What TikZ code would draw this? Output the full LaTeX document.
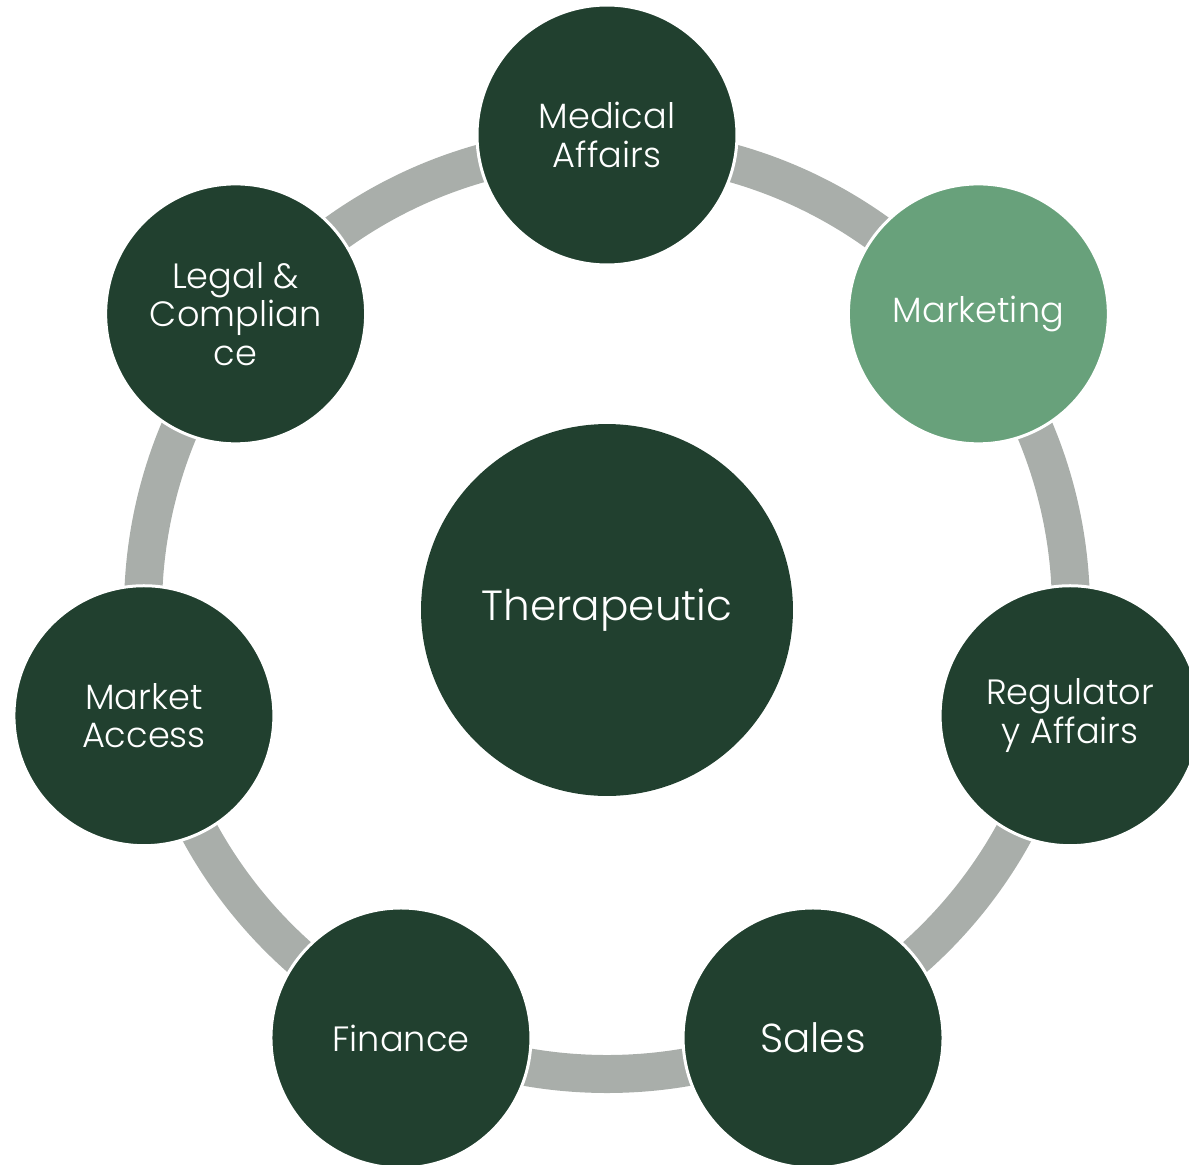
\documentclass[tikz,border=0pt]{standalone}
\usepackage{fontspec}
\setmainfont{Poppins Light}
\definecolor{Pine}{HTML}{21402F}
\definecolor{Sage}{HTML}{68A17B}
\definecolor{Stone}{HTML}{A9AEAA}

\begin{document}
\begin{tikzpicture}[
  x=0.02cm, y=0.02cm,
  unit/.style={circle, fill=Pine, draw=white, line width=0.06cm,
               minimum size=5.2cm, inner sep=0pt, text=white, align=center,
               font=\fontsize{20}{22}\selectfont},
  hubnode/.style={circle, fill=Pine, minimum size=7.44cm, inner sep=0pt,
                  text=white, font=\fontsize{24}{28}\selectfont},
  ring/.style={draw=Stone, line width=0.76cm}
]
  \useasboundingbox (-607,-554) rectangle (582,610);
  \clip (-607,-554) rectangle (582,610);

  % grey ring behind the satellites
  \draw[ring] (0,0) circle (464);

  \node[hubnode] (hub) at (0,0) {Therapeutic};

  % seven satellites, 360/7 degrees apart
  \node[unit]            (med)    at (90:475)     {Medical\\Affairs};
  \node[unit, fill=Sage] (mkt)    at (38.57:475)  {Marketing};
  \node[unit]            (reg)    at (-12.86:475) {Regulator\\y Affairs};
  \node[unit, font=\fontsize{23}{28}\selectfont]
                         (sales)  at (-64.29:475) {Sales};
  \node[unit]            (fin)    at (-115.71:475) {Finance};
  \node[unit]            (access) at (-167.14:475) {Market\\Access};
  \node[unit]            (legal)  at (141.43:475) {Legal \&\\Complian\\ce};
\end{tikzpicture}
\end{document}
